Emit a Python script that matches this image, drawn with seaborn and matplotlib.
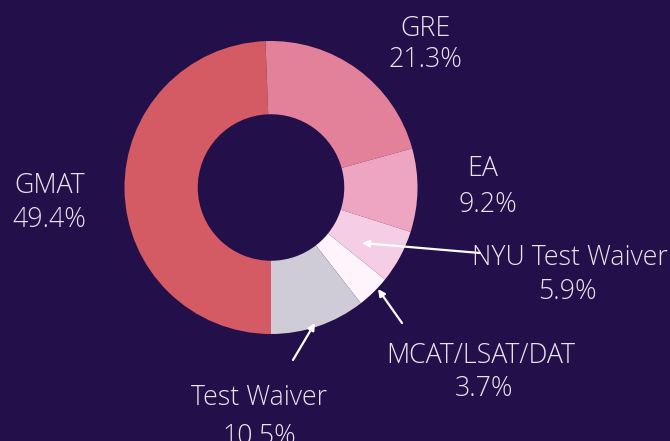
import matplotlib.pyplot as plt
import seaborn as sns

# slices in drawing order (clockwise from the bottom)
tests = ["GMAT", "GRE", "EA", "NYU Test Waiver", "MCAT/LSAT/DAT", "Test Waiver"]
shares = [49.4, 21.3, 9.2, 5.9, 3.7, 10.5]
colors = ["#D45A63", "#E4819A", "#EDA5C2", "#F5CDE4", "#FFF3FC", "#CFCCD8"]

bg = "#230F49"
txt = "#E8E4EE"
W, H = 670, 441

sns.set_theme(style="white", rc={"figure.facecolor": bg, "axes.facecolor": bg})
plt.rcParams["font.family"] = ["Open Sans", "DejaVu Sans"]

fig = plt.figure(figsize=(W / 100, H / 100), dpi=100)
ax = fig.add_axes([124.5 / W, 107 / H, 293 / W, 293 / H])

ax.pie(shares, colors=sns.color_palette(colors), startangle=270, counterclock=False,
       radius=1, wedgeprops={"width": 0.5, "linewidth": 0})
ax.set_xlim(-1, 1)
ax.set_ylim(-1, 1)
ax.set_aspect("equal")
ax.axis("off")


def fpos(px, py):
    # pixel position (from top-left) -> figure fraction
    return px / W, 1 - py / H


# (name x, name baseline, value x, value baseline) in pixels
label_pos = {
    "GMAT": (50, 193, 49, 227),
    "GRE": (425, 36, 425, 67),
    "EA": (483, 176, 488, 212),
    "NYU Test Waiver": (570, 265, 567, 299),
    "MCAT/LSAT/DAT": (481, 363, 484, 396),
    "Test Waiver": (259, 405, 259, 444),
}
# arrow head, tail in pixels
arrows = {
    "NYU Test Waiver": ((362, 243), (480, 253)),
    "MCAT/LSAT/DAT": ((378, 289), (402, 323)),
    "Test Waiver": ((315, 323), (293, 360)),
}

for name, val in zip(tests, shares):
    nx, ny, vx, vy = label_pos[name]
    style = dict(ha="center", va="baseline", color=txt, fontsize=19.3,
                 fontweight="light", transform=fig.transFigure)
    fig.text(*fpos(nx, ny), name, **style)
    fig.text(*fpos(vx, vy), f"{val}%", **style)
    if name in arrows:
        head, tail = arrows[name]
        ax.annotate("", xy=fpos(*head), xytext=fpos(*tail),
                    xycoords="figure fraction", textcoords="figure fraction",
                    annotation_clip=False,
                    arrowprops=dict(arrowstyle="-|>", color="white", lw=1.6,
                                    mutation_scale=10, shrinkA=0, shrinkB=0))

fig.savefig("out.png", dpi=100, facecolor=bg)
